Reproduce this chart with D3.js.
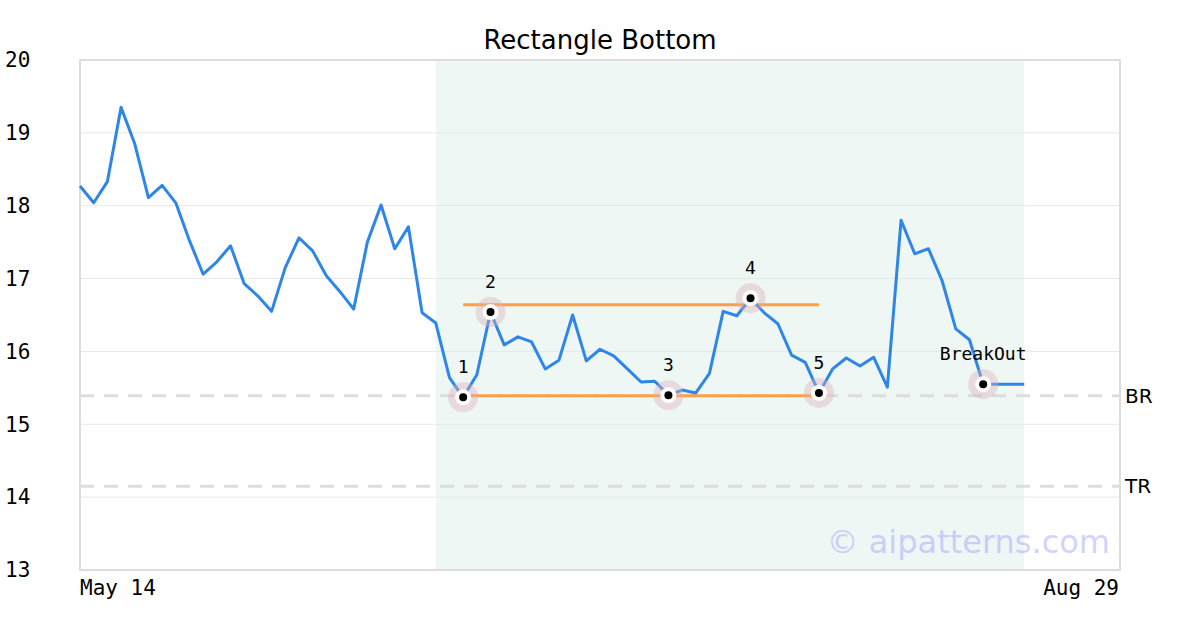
<!DOCTYPE html>
<html><head><meta charset="utf-8">
<script src="https://cdn.jsdelivr.net/npm/d3@7/dist/d3.min.js"></script>
<style>html,body{margin:0;padding:0;background:#fff}</style>
</head><body><svg id="c" width="1200" height="630"></svg>
<script>
const title = "Rectangle Bottom";
const prices = [18.27,18.04,18.33,19.35,18.85,18.11,18.28,18.04,17.52,17.06,
  17.23,17.45,16.93,16.76,16.55,17.15,17.56,17.38,17.04,16.82,
  16.58,17.50,18.01,17.41,17.71,16.53,16.39,15.64,15.37,15.68,
  16.54,16.09,16.20,16.13,15.76,15.88,16.50,15.87,16.03,15.94,
  15.76,15.58,15.59,15.40,15.47,15.43,15.70,16.55,16.49,16.73,
  16.53,16.38,15.95,15.85,15.43,15.76,15.91,15.80,15.92,15.51,
  17.80,17.34,17.41,16.97,16.31,16.16,15.55,15.55,15.55,15.55];
const totalSlots = 77;
const xTickIdx = [0, 76];
const xTickLabels = ["May 14", "Aug 29"];
const yTicks = [13,14,15,16,17,18,19,20];
const shadeRange = [26, 69];
const rectTop = 16.64, rectBottom = 15.39, rectRange = [28, 54];
const levels = [{name:"BR", v:15.39},{name:"TR", v:14.15}];
const pivots = [{i:28,label:"1"},{i:30,label:"2"},{i:43,label:"3"},{i:49,label:"4"},{i:54,label:"5"},{i:66,label:"BreakOut"}];

const svg = d3.select("#c");
const L=80,R=1120,T=60,B=570;
const x = d3.scaleLinear().domain([0,totalSlots-1]).range([L,R]);
const y = d3.scaleLinear().domain([13,20]).range([B,T]);

svg.append("rect").attr("x",x(shadeRange[0])).attr("y",T).attr("width",x(shadeRange[1])-x(shadeRange[0])).attr("height",B-T).attr("fill","#eef7f3");

svg.append("g").selectAll("line").data(yTicks.slice(1,-1)).join("line")
  .attr("x1",L).attr("x2",R).attr("y1",d=>y(d)).attr("y2",d=>y(d)).attr("stroke","#e8e8e8").attr("stroke-width",1);

svg.append("g").selectAll("text").data(yTicks).join("text")
  .attr("x",5).attr("y",d=>y(d)).attr("dy","0.35em").attr("font-family","DejaVu Sans Mono").attr("font-size",21).attr("fill","#000").text(d=>d);

svg.append("g").selectAll("text").data(xTickIdx).join("text")
  .attr("x",(d,i)=>i===0?x(d):x(d)-1).attr("y",595).attr("text-anchor",(d,i)=>i===0?"start":"end")
  .attr("font-family","DejaVu Sans Mono").attr("font-size",21).attr("fill","#000").text((d,i)=>xTickLabels[i]);

levels.forEach(l=>{
  svg.append("line").attr("x1",L).attr("x2",R).attr("y1",y(l.v)).attr("y2",y(l.v))
    .attr("stroke","#dddddd").attr("stroke-width",3).attr("stroke-dasharray","14,10");
  svg.append("text").attr("x",1125).attr("y",y(l.v)).attr("dy","0.35em").attr("font-family","DejaVu Sans").attr("font-size",20).attr("fill","#000").text(l.name);
});

svg.append("text").attr("x",1110).attr("y",553).attr("text-anchor","end").attr("font-family","DejaVu Sans").attr("font-size",32).attr("fill","rgba(165,165,255,0.5)").text("© aipatterns.com");

svg.append("rect").attr("x",L).attr("y",T).attr("width",R-L).attr("height",B-T).attr("fill","none").attr("stroke","#dddddd").attr("stroke-width",2);

[rectTop, rectBottom].forEach(v=>{
  svg.append("line").attr("x1",x(rectRange[0])).attr("x2",x(rectRange[1])).attr("y1",y(v)).attr("y2",y(v)).attr("stroke","#ff9f45").attr("stroke-width",3);
});

svg.append("path").datum(prices).attr("d",d3.line().x((d,i)=>x(i)).y(d=>y(d)))
  .attr("fill","none").attr("stroke","#2e86e8").attr("stroke-width",3).attr("stroke-linejoin","round");

const pg = svg.append("g").selectAll("g").data(pivots).join("g").attr("transform",d=>`translate(${x(d.i)},${y(prices[d.i])})`);
pg.append("circle").attr("r",15).attr("fill","rgba(220,175,185,0.4)");
pg.append("circle").attr("r",8).attr("fill","#fff");
pg.append("circle").attr("r",4).attr("fill","#000");
pg.append("text").attr("y",-24).attr("text-anchor","middle").attr("font-family","DejaVu Sans Mono").attr("font-size",18).attr("fill","#000").text(d=>d.label);

svg.append("text").attr("x",600).attr("y",49).attr("text-anchor","middle").attr("font-family","DejaVu Sans").attr("font-size",26).attr("fill","#000").text(title);
</script></body></html>
